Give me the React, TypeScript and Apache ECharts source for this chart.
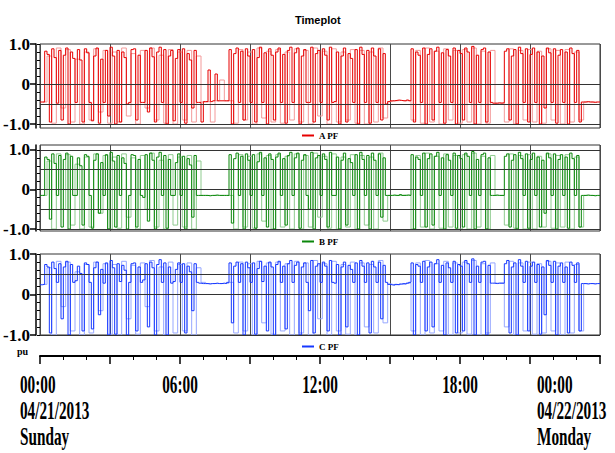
import { useEffect, useRef } from "react";
import * as echarts from "echarts";

// sampling of the traces (hours)
const MAIN_START = 0;
const MAIN_STEP = 0.1;
const ALT_START = 0.1;
const ALT_STEP = 0.2;

// A PF (dark red trace), 0.1 h samples 00:00 .. 24:00
const A_PF: number[] = [
  -0.45, -0.45, 0.82, 0.74, -0.95, 0.88, 0.66, -0.48, 0.84, -0.9,
  0.72, 0.9, -1.0, 0.8, 0.64, -0.46, 0.86, 0.6, -0.95, 0.88,
  0.78, -0.46, -0.92, 0.7, 0.9, -0.98, 0.62, -0.46, 0.84, -0.8,
  0.92, 0.7, -1.0, 0.84, -0.95, 0.8, 0.66, -0.5, -0.46, 0.86,
  0.88, -0.9, 0.72, -0.46, -0.46, 0.84, -0.7, 0.9, 0.68, -0.95,
  0.8, 0.92, -0.46, 0.86, -1.0, 0.7, 0.84, -0.92, 0.64, 0.86,
  -0.46, 0.88, -0.98, 0.76, 0.6, -0.6, 0.84, -0.46, -0.46, -0.95,
  -0.44, -0.44, 0.35, -0.44, -0.42, 0.25, -0.42, -0.42, -0.42, -0.42,
  -0.42, 0.86, -1.0, 0.76, 0.9, -0.46, 0.82, -0.9, 0.88, 0.7,
  -0.46, 0.86, -0.95, 0.66, 0.92, -0.46, 0.78, -1.0, 0.88, 0.72,
  -0.9, 0.8, 0.9, -0.46, 0.74, -0.98, 0.84, 0.92, -0.46, 0.78,
  0.9, -1.0, 0.7, 0.86, -0.46, -0.46, 0.92, -0.95, 0.76, 0.84,
  -0.46, 0.88, 0.72, -0.9, 0.92, -0.46, -0.44, 0.8, -1.0, 0.7,
  0.9, -0.95, 0.76, 0.64, -0.46, 0.86, -1.0, 0.92, 0.74, -0.46,
  0.84, -0.98, 0.9, 0.7, -0.46, 0.88, -0.9, 0.76, -0.5, -0.44,
  -0.42, -0.42, -0.41, -0.4, -0.41, -0.42, -0.42, -0.4, -0.42, 0.88,
  -0.95, 0.8, 0.72, -0.46, 0.9, -1.0, 0.74, 0.88, -0.9, 0.82,
  0.92, -0.46, 0.78, -0.98, 0.86, 0.7, -0.46, 0.9, -1.0, 0.84,
  0.76, -0.9, 0.9, 0.8, -0.46, 0.94, -1.0, 0.72, -0.46, 0.86,
  0.9, -0.95, 0.8, -0.46, -0.48, -0.48, -0.47, -0.48, -0.47, 0.82,
  0.88, -0.9, 0.7, 0.86, -1.0, 0.92, 0.76, -0.46, 0.88, -0.95,
  0.74, 0.9, -0.46, 0.8, -1.0, 0.7, -0.6, 0.9, 0.78, -0.46,
  0.88, -0.98, 0.72, 0.86, -0.46, 0.8, -1.0, 0.9, 0.76, -0.46,
  0.84, -0.95, -0.45, -0.45, -0.44, -0.45, -0.45, -0.46, -0.45, -0.45,
  -0.45,
];

// A PF (light red trace), 0.2 h samples from 00:06
const A_PF_ALT: number[] = [
  -0.45, 0.7, -0.98, 0.9, -0.6,
  0.86, -0.95, 0.62, -1.0, 0.8,
  -0.9, 0.88, -0.7, 0.84, -0.98,
  0.8, -0.95, 0.9, -0.8, 0.76,
  -1.0, 0.84, -0.6, 0.9, -0.9,
  0.72, -0.98, 0.86, -1.0, 0.8,
  -0.9, 0.84, -0.95, 0.7, -0.45,
  -0.44, -0.95, -0.42, 0.1, -0.42,
  -0.42, -0.98, 0.86, -0.9, 0.8,
  -1.0, 0.9, -0.85, 0.82, -0.95,
  0.86, -0.98, 0.8, -0.9, 0.88,
  -0.95, 0.84, -1.0, 0.9, -0.8,
  0.82, -1.0, 0.88, -0.95, 0.8,
  -0.9, 0.86, -0.98, 0.84, -1.0,
  0.8, -0.95, 0.9, -0.85, -0.44,
  -0.42, -0.41, -0.42, -0.41, -0.9,
  0.84, -0.98, 0.9, -0.95, 0.82,
  -1.0, 0.88, -0.9, 0.84, -0.98,
  0.86, -0.95, 0.9, -1.0, 0.82,
  -0.98, 0.84, -0.48, -0.47, -0.95,
  0.88, -1.0, 0.84, -0.9, 0.86,
  -0.95, 0.82, -0.98, 0.88, -0.9,
  0.84, -1.0, 0.86, -0.95, 0.8,
  -0.9, -0.45, -0.45, -0.45, -0.45,
];

// B PF (dark green trace)
const B_PF: number[] = [
  -0.15, -0.15, 0.82, 0.76, -0.75, 0.9, 0.66, -0.15, 0.86, -0.95,
  0.76, 0.92, -1.0, 0.84, -0.15, -0.15, 0.8, 0.6, -0.9, 0.88,
  0.84, -0.15, -0.98, 0.74, 0.9, -0.6, 0.68, -0.15, 0.88, -1.0,
  0.94, 0.72, -0.95, 0.86, -0.15, 0.8, 0.66, -1.0, -0.15, 0.88,
  0.86, -0.95, 0.76, -0.15, -0.2, 0.88, -0.8, 0.92, 0.74, -1.0,
  0.82, 0.94, -0.15, 0.86, -0.98, 0.76, -0.15, -0.15, 0.68, 0.9,
  -0.15, 0.84, -1.0, 0.78, 0.62, -0.7, 0.86, -0.15, -0.15, -0.15,
  -0.15, -0.15, -0.16, -0.15, -0.15, -0.14, -0.15, -0.15, -0.15, -0.15,
  -0.15, 0.88, -0.85, 0.78, 0.92, -0.15, 0.84, -1.0, 0.9, 0.74,
  -0.15, 0.88, -0.98, 0.7, 0.94, -0.15, 0.8, -0.95, 0.9, 0.76,
  -1.0, 0.82, 0.92, -0.15, 0.78, -0.9, 0.86, 0.94, -0.15, 0.8,
  0.92, -0.98, 0.74, 0.88, -0.15, -0.5, 0.94, -1.0, 0.8, 0.86,
  -0.15, 0.9, 0.76, -0.95, 0.94, -0.15, -0.15, 0.82, -1.0, 0.74,
  0.92, -0.9, 0.78, 0.68, -0.15, 0.88, -1.0, 0.94, 0.76, -0.15,
  0.86, -1.0, 0.92, 0.74, -0.15, 0.9, -0.7, 0.8, -0.15, -0.15,
  -0.15, -0.14, -0.15, -0.15, -0.13, -0.15, -0.15, -0.14, -0.15, 0.88,
  -1.0, 0.82, 0.76, -0.15, 0.92, -0.95, 0.78, 0.9, -0.9, 0.84,
  0.94, -0.15, 0.8, -1.0, 0.88, 0.74, -0.15, 0.92, -0.98, 0.86,
  0.78, -0.95, 0.92, 0.84, -0.15, 0.96, -1.0, 0.76, -0.15, 0.88,
  0.92, -1.0, 0.8, -0.15, -0.15, -0.14, -0.15, -0.15, -0.15, 0.84,
  0.9, -0.95, 0.74, 0.88, -1.0, 0.94, 0.78, -0.15, 0.9, -0.98,
  0.76, 0.92, -0.15, 0.82, -0.95, 0.74, -0.6, 0.92, 0.8, -0.15,
  0.9, -1.0, 0.76, 0.88, -0.15, 0.82, -0.98, 0.92, 0.78, -0.15,
  0.86, -0.95, -0.15, -0.15, -0.14, -0.15, -0.15, -0.16, -0.15, -0.15,
  -0.15,
];

// B PF (light green trace)
const B_PF_ALT: number[] = [
  -0.15, 0.72, -1.0, 0.9, -0.5,
  0.88, -0.9, 0.64, -1.0, 0.82,
  -0.95, 0.9, -0.6, 0.86, -1.0,
  0.82, -0.98, 0.9, -0.7, 0.8,
  -1.0, 0.86, -0.5, 0.92, -0.95,
  0.74, -1.0, 0.88, -0.9, 0.82,
  -0.95, 0.86, -1.0, 0.72, -0.15,
  -0.15, -0.15, -0.15, -0.15, -0.15,
  -0.15, -1.0, 0.88, -0.95, 0.84,
  -0.98, 0.9, -0.8, 0.86, -1.0,
  0.88, -0.95, 0.84, -1.0, 0.9,
  -1.0, 0.86, -0.95, 0.92, -0.7,
  0.84, -0.98, 0.9, -1.0, 0.82,
  -0.95, 0.88, -1.0, 0.86, -0.9,
  0.82, -1.0, 0.92, -0.8, -0.15,
  -0.15, -0.15, -0.14, -0.15, -1.0,
  0.86, -0.95, 0.92, -1.0, 0.84,
  -0.98, 0.9, -0.95, 0.86, -1.0,
  0.88, -1.0, 0.92, -0.95, 0.84,
  -1.0, 0.86, -0.15, -0.15, -0.9,
  0.9, -0.98, 0.86, -1.0, 0.88,
  -1.0, 0.84, -0.95, 0.9, -0.98,
  0.86, -0.95, 0.88, -1.0, 0.82,
  -0.95, -0.15, -0.15, -0.15, -0.15,
];

// C PF (dark blue trace)
const C_PF: number[] = [
  0.24, 0.25, 0.74, 0.68, -0.95, 0.8, 0.64, 0.3, 0.76, -0.6,
  0.68, 0.82, -1.0, 0.74, 0.3, 0.34, 0.7, 0.52, -0.9, 0.78,
  0.74, 0.3, -0.85, 0.66, 0.8, -0.5, 0.62, 0.28, 0.78, -1.0,
  0.84, 0.66, -0.98, 0.76, 0.32, 0.72, 0.6, -1.0, 0.3, 0.76,
  0.78, -0.9, 0.68, 0.3, 0.36, 0.76, -0.8, 0.8, 0.66, -1.0,
  0.74, 0.86, 0.3, 0.78, -1.0, 0.68, 0.28, 0.32, 0.62, 0.78,
  0.3, 0.76, -0.95, 0.7, 0.56, -0.4, 0.76, 0.3, 0.28, 0.27,
  0.27, 0.27, 0.26, 0.27, 0.27, 0.28, 0.27, 0.27, 0.28, 0.27,
  0.3, 0.78, -0.7, 0.7, 0.8, 0.3, 0.76, -1.0, 0.8, 0.66,
  0.3, 0.78, -0.98, 0.64, 0.82, 0.32, 0.7, -0.9, 0.8, 0.68,
  -1.0, 0.74, 0.82, 0.3, 0.7, -0.85, 0.76, 0.84, 0.3, 0.72,
  0.8, -1.0, 0.68, 0.78, 0.3, -0.4, 0.84, -0.95, 0.7, 0.76,
  0.3, 0.8, 0.7, -0.9, 0.84, 0.3, 0.28, 0.74, -1.0, 0.68,
  0.8, -0.8, 0.72, 0.62, 0.3, 0.78, -1.0, 0.84, 0.7, 0.3,
  0.78, -0.95, 0.82, 0.68, 0.3, 0.8, -0.6, 0.72, 0.3, 0.25,
  0.24, 0.23, 0.25, 0.24, 0.26, 0.27, 0.26, 0.28, 0.3, 0.78,
  -1.0, 0.74, 0.7, 0.3, 0.82, -0.9, 0.68, 0.8, -0.8, 0.76,
  0.86, 0.3, 0.72, -1.0, 0.78, 0.66, 0.3, 0.82, -0.95, 0.74,
  0.7, -0.9, 0.84, 0.76, 0.3, 0.88, -1.0, 0.7, 0.3, 0.8,
  0.82, -1.0, 0.72, 0.28, 0.28, 0.27, 0.28, 0.28, 0.28, 0.76,
  0.84, -0.95, 0.68, 0.78, -1.0, 0.86, 0.7, 0.3, 0.82, -0.9,
  0.7, 0.8, 0.3, 0.74, -0.98, 0.68, -0.5, 0.84, 0.72, 0.3,
  0.82, -1.0, 0.7, 0.78, 0.3, 0.68, -0.95, 0.8, 0.72, 0.3,
  0.78, -0.9, 0.27, 0.27, 0.26, 0.27, 0.27, 0.26, 0.27, 0.27,
  0.27,
];

// C PF (light blue trace)
const C_PF_ALT: number[] = [
  0.25, 0.66, -1.0, 0.82, -0.3,
  0.8, -0.9, 0.56, -1.0, 0.74,
  -0.95, 0.8, -0.4, 0.76, -0.98,
  0.74, -1.0, 0.82, -0.6, 0.72,
  -0.98, 0.78, -0.3, 0.84, -0.9,
  0.68, -1.0, 0.8, -0.95, 0.74,
  -0.9, 0.78, -1.0, 0.66, 0.3,
  0.27, 0.27, 0.27, 0.27, 0.28,
  0.3, -0.95, 0.8, -0.9, 0.76,
  -1.0, 0.82, -0.7, 0.78, -0.98,
  0.8, -0.9, 0.76, -1.0, 0.82,
  -0.95, 0.78, -1.0, 0.84, -0.6,
  0.76, -1.0, 0.82, -0.9, 0.74,
  -0.98, 0.8, -1.0, 0.78, -0.8,
  0.74, -0.95, 0.84, -0.7, 0.26,
  0.24, 0.25, 0.26, 0.28, -0.9,
  0.78, -1.0, 0.84, -0.95, 0.76,
  -0.9, 0.82, -1.0, 0.78, -0.95,
  0.8, -0.98, 0.84, -1.0, 0.76,
  -0.95, 0.78, 0.28, 0.28, -0.8,
  0.82, -1.0, 0.78, -0.9, 0.8,
  -0.98, 0.76, -0.95, 0.82, -0.9,
  0.78, -1.0, 0.8, -0.95, 0.74,
  -0.9, 0.27, 0.27, 0.27, 0.27,
];

const Y_LABEL_VALUES = [-1, 0, 1];
const Y_MINOR_TICKS = [-1, -0.8, -0.6, -0.4, -0.2, 0, 0.2, 0.4, 0.6, 0.8, 1];

const X_LABELS = [
  { hour: 0, text: "00:00\n04/21/2013\nSunday", place: "start" },
  { hour: 6, text: "06:00", place: "center" },
  { hour: 12, text: "12:00", place: "center" },
  { hour: 18, text: "18:00", place: "center" },
  { hour: 24, text: "00:00\n04/22/2013\nMonday", place: "end" },
];

const PANELS = [
  {
    name: "A PF", data: A_PF, alt: A_PF_ALT,
    color: "#e60000", light: "#f39a9a",
    top: 44, height: 84, min: -1.1, max: 1.0,
    refs: [0, -0.5, -1], legendTop: 131,
  },
  {
    name: "B PF", data: B_PF, alt: B_PF_ALT,
    color: "#0a870a", light: "#8fcb8f",
    top: 145, height: 86, min: -1.05, max: 1.125,
    refs: [1, 0.5, 0, -0.5, -1], legendTop: 237,
  },
  {
    name: "C PF", data: C_PF, alt: C_PF_ALT,
    color: "#1638ff", light: "#97a8ff",
    top: 254, height: 81, min: -1, max: 1,
    refs: [0.5, 0, -1], legendTop: 342,
  },
];

const SERIF = "Liberation Serif";

function buildOption(): echarts.EChartsCoreOption {
  const grid = PANELS.map((p) => ({
    left: 40, right: 15, top: p.top, height: p.height,
    show: true, borderColor: "#333", borderWidth: 1,
    backgroundColor: "transparent",
  }));

  const xAxis = PANELS.map((_, i) => {
    const last = i === PANELS.length - 1;
    return {
      type: "value", gridIndex: i, min: 0, max: 24, interval: 3,
      offset: last ? 21 : 0,
      axisLine: { show: last, onZero: false, lineStyle: { color: "#000", width: 2 } },
      axisTick: { show: last, length: 8, lineStyle: { color: "#000", width: 1.5 } },
      minorTick: { show: last, splitNumber: 3, length: 4, lineStyle: { color: "#000", width: 1 } },
      axisLabel: { show: false },
      splitLine: { show: true, lineStyle: { color: "#4a4a4a", width: 1 } },
    };
  });

  const yAxis: any[] = [];
  PANELS.forEach((p, i) => {
    yAxis.push({
      type: "value", gridIndex: i, min: p.min, max: p.max,
      position: "left", offset: 4,
      axisLine: { show: true, onZero: false, lineStyle: { color: "#000", width: 1.5 } },
      axisTick: { show: true, customValues: Y_LABEL_VALUES, length: 6, lineStyle: { color: "#000", width: 1.5 } },
      axisLabel: {
        customValues: Y_LABEL_VALUES,
        formatter: (v: number) => (v === 0 ? "0" : v.toFixed(1)),
        fontFamily: SERIF, fontWeight: "bold", fontSize: 17, color: "#000", margin: 6,
      },
      splitLine: { show: false },
    });
    yAxis.push({
      type: "value", gridIndex: i, min: p.min, max: p.max,
      position: "left", offset: 4,
      axisLine: { show: false },
      axisTick: { show: true, customValues: Y_MINOR_TICKS, length: 3, lineStyle: { color: "#000", width: 1 } },
      axisLabel: { show: false },
      splitLine: { show: false },
    });
  });

  const series: any[] = [];
  PANELS.forEach((p, i) => {
    series.push({
      name: p.name + " max", type: "line", xAxisIndex: i, yAxisIndex: i * 2,
      data: p.alt.map((v, k) => [ALT_START + k * ALT_STEP, v]),
      step: "end",
      showSymbol: false, symbol: "none", silent: true,
      lineStyle: { color: p.light, width: 1 },
      itemStyle: { color: p.light },
      markLine: {
        silent: true, symbol: ["none", "none"], label: { show: false },
        lineStyle: { color: "#333", width: 1, type: "solid" },
        data: p.refs.map((r) => ({ yAxis: r })),
      },
    });
    series.push({
      name: p.name, type: "line", xAxisIndex: i, yAxisIndex: i * 2,
      data: p.data.map((v, k) => [MAIN_START + k * MAIN_STEP, v]),
      step: "end",
      showSymbol: false, symbol: "none", silent: true,
      lineStyle: { color: p.color, width: 1 },
      itemStyle: { color: p.color },
    });
  });

  const legend = PANELS.map((p) => ({
    data: [p.name], top: p.legendTop, left: 302, padding: 0,
    icon: "rect", itemWidth: 12, itemHeight: 2, itemGap: 4,
    selectedMode: false,
    textStyle: { fontFamily: SERIF, fontWeight: "bold", fontSize: 9, color: "#000" },
  }));

  return {
    animation: false,
    backgroundColor: "#fff",
    textStyle: { fontFamily: SERIF },
    title: {
      text: "Timeplot", left: 290, top: 9,
      textStyle: { fontFamily: "Liberation Sans", fontWeight: "bold", fontSize: 11, color: "#000" },
    },
    legend, grid, xAxis, yAxis, series,
  };
}

export default function App() {
  const ref = useRef<HTMLDivElement>(null);
  useEffect(() => {
    if (!ref.current) return;
    const chart = echarts.init(ref.current, null, { renderer: "svg" });
    chart.setOption(buildOption());
    const px = (h: number) => chart.convertToPixel({ xAxisIndex: 2 }, h) as number;
    const labels = X_LABELS.map((l) => {
      const tx = px(l.hour);
      const x = l.place === "start" ? tx - 20 : l.place === "end" ? tx - 63 : tx;
      return {
        type: "text", x, y: 372, scaleX: 0.61, silent: true,
        style: {
          text: l.text, fill: "#000", fontFamily: SERIF, fontWeight: "bold",
          fontSize: 25, lineHeight: 26,
          align: l.place === "center" ? "center" : "left", verticalAlign: "top",
        },
      };
    });
    chart.setOption({
      graphic: [
        ...labels,
        {
          type: "text", x: 17, y: 346, silent: true,
          style: { text: "pu", fill: "#000", fontFamily: SERIF, fontWeight: "bold", fontSize: 10 },
        },
      ],
    });
    return () => chart.dispose();
  }, []);
  return (
    <div
      ref={ref}
      style={{ position: "absolute", left: 0, top: 0, width: 615, height: 453 }}
    />
  );
}
